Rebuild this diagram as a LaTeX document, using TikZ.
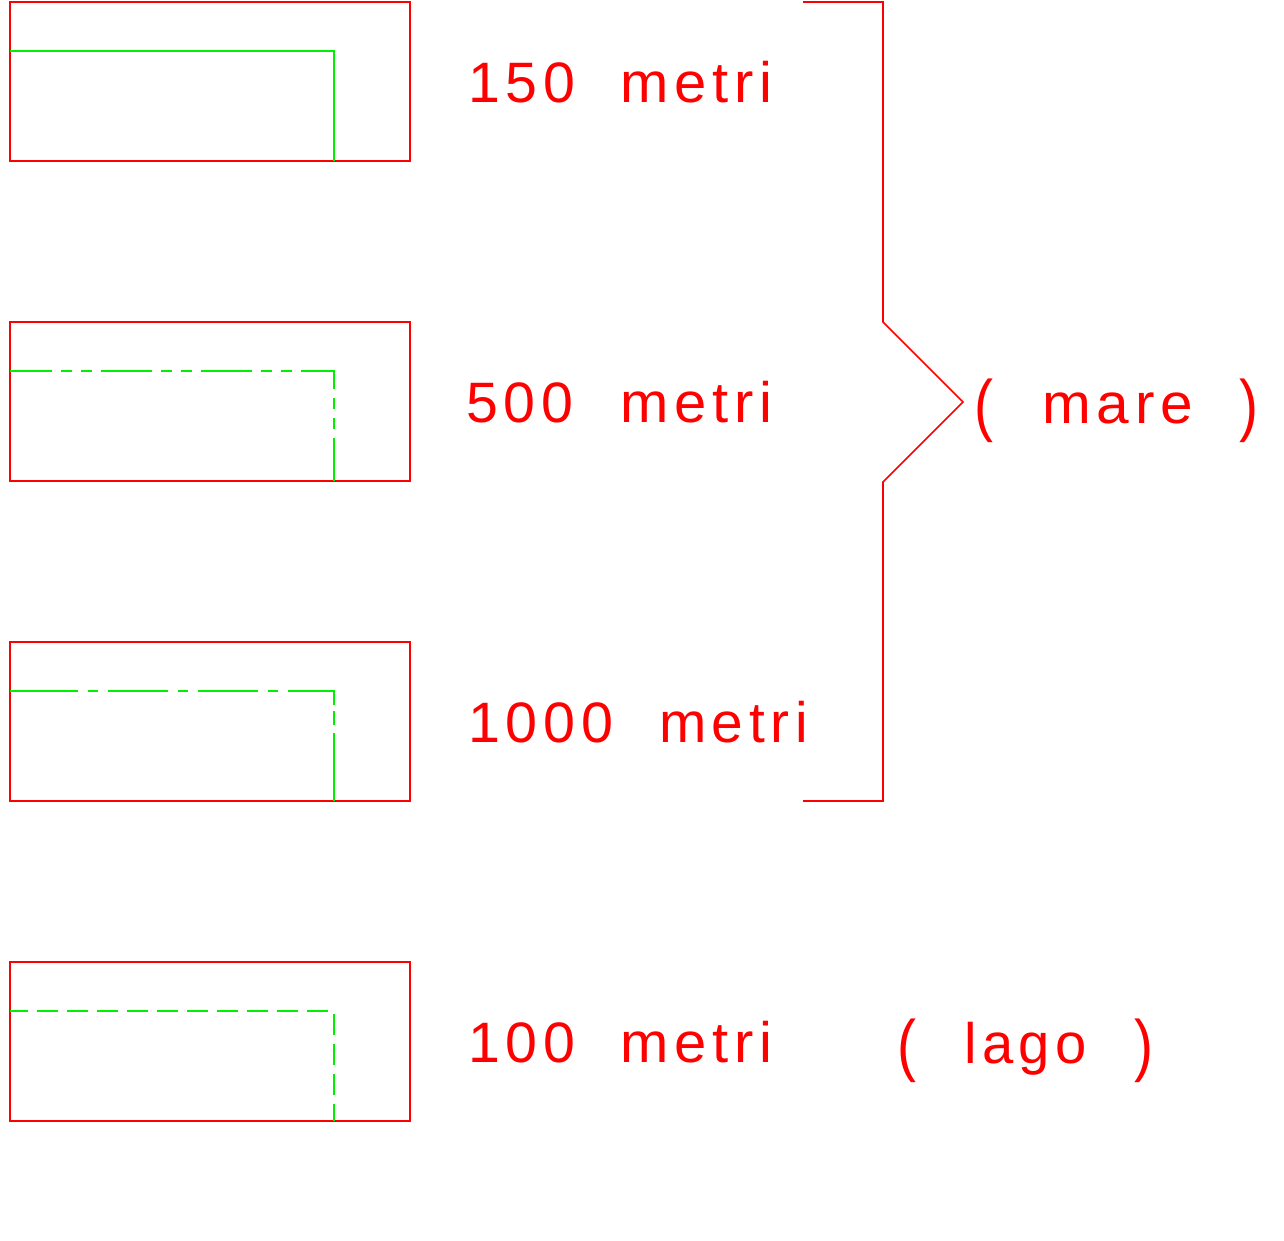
\documentclass[tikz,border=0pt]{standalone}
\usepackage{fontspec}
\setmainfont{Liberation Sans}
\newfontfamily\cadfont[LetterSpace=10]{Liberation Sans}
\usepackage{graphicx}
\definecolor{cadred}{RGB}{255,0,0}
\definecolor{cadgreen}{RGB}{0,240,0}
\newcommand\cadw[2]{\resizebox{#1pt}{\height}{#2}}
\begin{document}
\begin{tikzpicture}[x=1pt,y=-1pt,
  frame/.style={draw=cadred,line width=1.6pt},
  inner/.style={draw=cadgreen,line width=1.6pt,line cap=butt},
  lbl/.style={text=cadred,inner sep=0pt,outer sep=0pt,anchor=base west,font=\cadfont\fontsize{57}{60}\selectfont}]
\useasboundingbox (0,0) rectangle (1284,1240);
% outer frames
\foreach \y/\n in {2/a,322/b,642/c,962/d}
  \draw[frame] (10,\y) coordinate (f\n) rectangle (410,\y+159);
% green inner lines
\draw[inner] (10,51) -- (334,51) -- (334,161);
\draw[inner,dash pattern=on 51pt off 9pt on 11pt off 9pt on 11pt off 9pt,dash phase=9pt]
  (10,371) -- (334,371) -- (334,481);
\draw[inner,dash pattern=on 68pt off 10pt on 10pt off 10pt on 60pt off 10pt on 10pt off 10pt on 60pt off 10pt on 10pt off 10pt on 60pt off 6pt on 14pt off 8pt on 100pt]
  (10,691) -- (334,691) -- (334,801);
\draw[inner,dash pattern=on 21pt off 9pt,dash phase=3pt]
  (10,1011) -- (334,1011) -- (334,1121);
% bracket
\coordinate (bt) at (803,2);
\coordinate (bb) at (803,801);
\coordinate (tip) at (963,402);
\draw[frame,line join=miter] (bt) -- (883,2) -- (883,322) -- (tip) -- (883,482) -- (883,801) -- (bb);
% labels
\node[lbl] (n150) at (468,102) {\cadw{107}{150}};
\node[lbl] (m150) at (620,102) {\cadw{152}{metri}};
\node[lbl] (n500) at (466,422) {\cadw{107}{500}};
\node[lbl] (m500) at (620,422) {\cadw{152}{metri}};
\node[lbl] (n1000) at (468,742) {\cadw{145}{1000}};
\node[lbl] (m1000) at (659,742) {\cadw{149}{metri}};
\node[lbl] (n100) at (468,1062) {\cadw{107}{100}};
\node[lbl] (m100) at (620,1062) {\cadw{152}{metri}};
% mare
\node[lbl] (pm1) at (974,428) {\scalebox{1}[1.2]{(}};
\node[lbl] (mare) at (1042,423) {\cadw{151}{mare}};
\node[lbl] (pm2) at (1239,428) {\scalebox{1}[1.2]{)}};
% lago
\node[lbl] (pl1) at (897,1068) {\scalebox{1}[1.2]{(}};
\node[lbl] (lago) at (964,1063) {\cadw{123}{lago}};
\node[lbl] (pl2) at (1134,1068) {\scalebox{1}[1.2]{)}};
\end{tikzpicture}
\end{document}
